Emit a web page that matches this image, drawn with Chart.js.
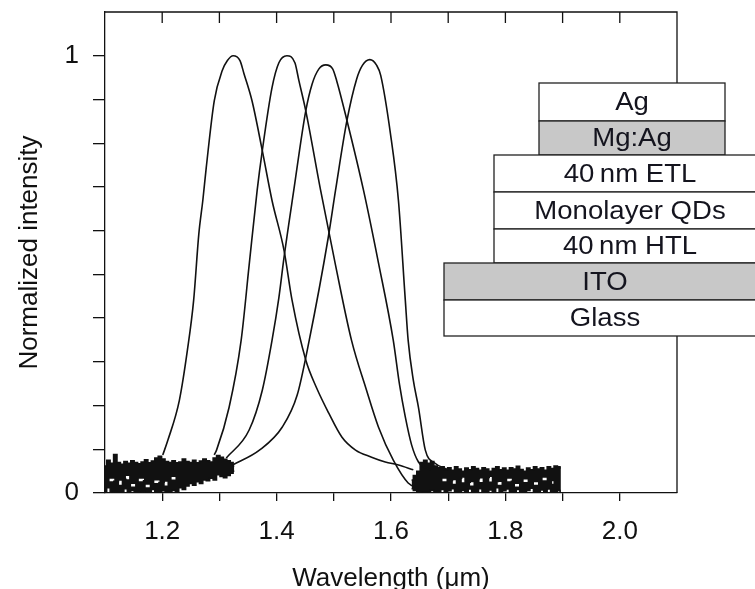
<!DOCTYPE html>
<html>
<head>
<meta charset="utf-8">
<script src="https://cdn.jsdelivr.net/npm/chart.js@4/dist/chart.umd.min.js"></script>
<style>
  html, body { margin: 0; padding: 0; background: #fff; }
</style>
</head>
<body>
<canvas id="chart" width="755" height="589"></canvas>
<script>
// electroluminescence spectra: [wavelength (um), normalized intensity]
const spectrum1 = [
  [1.201, 0.087], [1.210, 0.121], [1.230, 0.212], [1.244, 0.326], [1.255, 0.441],
  [1.264, 0.592], [1.271, 0.669], [1.277, 0.744], [1.291, 0.897], [1.305, 0.966],
  [1.314, 0.989], [1.324, 1.000], [1.336, 0.989], [1.343, 0.959], [1.357, 0.897],
  [1.375, 0.783], [1.392, 0.669], [1.413, 0.555], [1.427, 0.441], [1.451, 0.304],
  [1.470, 0.240], [1.491, 0.183], [1.514, 0.128], [1.538, 0.098], [1.566, 0.082],
  [1.590, 0.071], [1.613, 0.064], [1.639, 0.053]
];
const spectrum2 = [
  [1.291, 0.087], [1.295, 0.098], [1.317, 0.196], [1.338, 0.349], [1.352, 0.521],
  [1.366, 0.692], [1.375, 0.783], [1.392, 0.927], [1.404, 0.984], [1.418, 1.000],
  [1.432, 0.984], [1.439, 0.943], [1.451, 0.874], [1.477, 0.692], [1.503, 0.521],
  [1.531, 0.349], [1.556, 0.240], [1.578, 0.151], [1.604, 0.075], [1.630, 0.023],
  [1.648, 0.011]
];
const spectrum3 = [
  [1.312, 0.080], [1.352, 0.144], [1.375, 0.235], [1.392, 0.349], [1.404, 0.447],
  [1.413, 0.539], [1.430, 0.692], [1.451, 0.874], [1.462, 0.935], [1.474, 0.970],
  [1.486, 0.979], [1.498, 0.970], [1.505, 0.943], [1.523, 0.852], [1.552, 0.692],
  [1.578, 0.527], [1.604, 0.349], [1.615, 0.247], [1.625, 0.174], [1.636, 0.110],
  [1.648, 0.071], [1.669, 0.053]
];
const spectrum4 = [
  [1.323, 0.064], [1.370, 0.098], [1.410, 0.151], [1.436, 0.224], [1.457, 0.349],
  [1.490, 0.582], [1.503, 0.692], [1.523, 0.852], [1.540, 0.947], [1.550, 0.978],
  [1.563, 0.991], [1.575, 0.978], [1.582, 0.955], [1.599, 0.822], [1.613, 0.669],
  [1.625, 0.441], [1.630, 0.349], [1.639, 0.258], [1.648, 0.196], [1.660, 0.098],
  [1.677, 0.068], [1.700, 0.053]
];

// detector noise floor: [wavelength, top of band, bottom of band]
const noiseShort = [
  [1.100, 0.062, 0.000], [1.106, 0.075, 0.012], [1.112, 0.068, 0.000], [1.118, 0.088, 0.004],
  [1.124, 0.070, 0.000], [1.130, 0.066, 0.000], [1.136, 0.072, 0.010], [1.142, 0.068, 0.000],
  [1.148, 0.074, 0.006], [1.154, 0.070, 0.000], [1.160, 0.067, 0.000], [1.166, 0.071, 0.004],
  [1.172, 0.076, 0.000], [1.178, 0.069, 0.000], [1.184, 0.073, 0.008], [1.190, 0.080, 0.000],
  [1.196, 0.084, 0.000], [1.202, 0.078, 0.005], [1.208, 0.072, 0.000], [1.214, 0.070, 0.000],
  [1.220, 0.074, 0.006], [1.226, 0.069, 0.000], [1.232, 0.071, 0.012], [1.238, 0.078, 0.008],
  [1.244, 0.072, 0.016], [1.250, 0.070, 0.022], [1.256, 0.075, 0.018], [1.262, 0.069, 0.026],
  [1.268, 0.073, 0.022], [1.274, 0.078, 0.030], [1.280, 0.074, 0.028], [1.286, 0.071, 0.034],
  [1.292, 0.080, 0.030], [1.298, 0.086, 0.042], [1.304, 0.082, 0.038], [1.310, 0.077, 0.035],
  [1.316, 0.074, 0.040], [1.322, 0.070, 0.045], [1.326, 0.062, 0.050]
];
const noiseLong = [
  [1.636, 0.030, 0.010], [1.642, 0.040, 0.006], [1.648, 0.050, 0.004], [1.654, 0.070, 0.000],
  [1.660, 0.075, 0.002], [1.666, 0.068, 0.000], [1.672, 0.072, 0.006], [1.678, 0.062, 0.000],
  [1.684, 0.058, 0.004], [1.690, 0.060, 0.008], [1.696, 0.054, 0.000], [1.702, 0.058, 0.005],
  [1.708, 0.052, 0.010], [1.714, 0.060, 0.003], [1.720, 0.055, 0.000], [1.726, 0.050, 0.006],
  [1.732, 0.057, 0.002], [1.738, 0.053, 0.009], [1.744, 0.060, 0.000], [1.750, 0.056, 0.004],
  [1.756, 0.052, 0.010], [1.762, 0.058, 0.002], [1.768, 0.055, 0.000], [1.774, 0.050, 0.007],
  [1.780, 0.056, 0.003], [1.786, 0.060, 0.012], [1.792, 0.053, 0.000], [1.798, 0.057, 0.005],
  [1.804, 0.052, 0.009], [1.810, 0.058, 0.002], [1.816, 0.055, 0.000], [1.822, 0.061, 0.008],
  [1.828, 0.054, 0.004], [1.834, 0.050, 0.000], [1.840, 0.057, 0.006], [1.846, 0.053, 0.011],
  [1.852, 0.060, 0.003], [1.858, 0.055, 0.000], [1.864, 0.058, 0.007], [1.870, 0.052, 0.002],
  [1.876, 0.060, 0.009], [1.882, 0.056, 0.004], [1.888, 0.062, 0.000], [1.894, 0.060, 0.006],
  [1.897, 0.058, 0.000]
];
// small gaps seen inside the noise floor: [wavelength, intensity]
const gapsShort = [
  [1.108, 0.030], [1.120, 0.022], [1.134, 0.036], [1.146, 0.018], [1.160, 0.030],
  [1.172, 0.016], [1.186, 0.026], [1.200, 0.020], [1.214, 0.034], [1.228, 0.024]
];
const gapsLong = [
  [1.690, 0.030], [1.704, 0.024], [1.718, 0.032], [1.734, 0.020], [1.750, 0.028],
  [1.766, 0.034], [1.782, 0.022], [1.800, 0.030], [1.818, 0.018], [1.836, 0.028],
  [1.852, 0.022], [1.868, 0.032], [1.884, 0.024]
];

const xTicks = [1.2, 1.3, 1.4, 1.5, 1.6, 1.7, 1.8, 1.9, 2.0];
const xLabels = ['1.2', '', '1.4', '', '1.6', '', '1.8', '', '2.0'];
const yTicks = [0, 0.1, 0.2, 0.3, 0.4, 0.5, 0.6, 0.7, 0.8, 0.9, 1.0];
const yLabels = ['0', '', '', '', '', '', '', '', '', '', '1'];

// device stack drawn as inset, top to bottom
const layerNames = ['Ag', 'Mg:Ag', '40\u2009nm ETL', 'Monolayer QDs', '40\u2009nm HTL', 'ITO', 'Glass'];
const layerShaded = [false, true, false, false, false, true, false];

const INK = '#111';
const FONT = 'Liberation Sans, Arial, Helvetica, sans-serif';

const toXY = rows => rows.map(r => ({ x: r[0], y: r[1] }));
const bandBottom = rows => rows.map(r => ({ x: r[0], y: r[2] }));

const noiseStyle = { borderColor: INK, borderWidth: 1.5, stepped: 'middle', pointRadius: 0, order: 2 };
const gapStyle = { borderColor: '#fff', borderWidth: 2.5, stepped: 'middle', borderDash: [4, 9], pointRadius: 0, fill: false, order: 1 };
const curveStyle = { borderColor: INK, borderWidth: 1.6, cubicInterpolationMode: 'monotone', pointRadius: 0, fill: false, order: 0 };

// plot frame: top and right sides plus inward ticks on top
const framePlugin = {
  id: 'frame',
  beforeDatasetsDraw(chart) {
    const { ctx, chartArea: a, scales: { x } } = chart;
    ctx.save();
    ctx.strokeStyle = INK;
    ctx.lineWidth = 1.3;
    ctx.beginPath();
    ctx.moveTo(a.left, a.top);
    ctx.lineTo(a.right, a.top);
    ctx.lineTo(a.right, a.bottom);
    xTicks.forEach(v => {
      const px = x.getPixelForValue(v);
      ctx.moveTo(px, a.top);
      ctx.lineTo(px, a.top + 11);
    });
    ctx.stroke();
    ctx.restore();
  }
};

// layer stack inset
const stackPlugin = {
  id: 'stack',
  afterDraw(chart) {
    const { ctx } = chart;
    const rows = [83, 121, 155, 192, 229, 263, 300, 336];
    const lefts = [539, 539, 494, 494, 494, 444, 444];
    const rights = [725, 725, 766, 766, 766, 766, 766];
    ctx.save();
    ctx.lineWidth = 1.3;
    ctx.strokeStyle = '#222';
    layerNames.forEach((name, i) => {
      const x0 = lefts[i], x1 = rights[i], y0 = rows[i], y1 = rows[i + 1];
      ctx.fillStyle = layerShaded[i] ? '#c8c8c8' : '#fff';
      ctx.fillRect(x0, y0, x1 - x0, y1 - y0);
      ctx.strokeRect(x0, y0, x1 - x0, y1 - y0);
      ctx.save();
      ctx.translate((x0 + x1) / 2, (y0 + y1) / 2 + 1);
      ctx.scale(1.06, 1);
      ctx.font = '26px ' + FONT;
      ctx.textAlign = 'center';
      ctx.textBaseline = 'middle';
      ctx.fillStyle = '#14141e';
      ctx.fillText(name, 0, 0);
      ctx.restore();
    });
    ctx.restore();
  }
};

Chart.defaults.font.family = FONT;
Chart.defaults.font.size = 26;
Chart.defaults.color = INK;

const noPad = s => { s.paddingTop = 0; s.paddingBottom = 0; s.paddingLeft = 0; s.paddingRight = 0; };

new Chart(document.getElementById('chart'), {
  type: 'line',
  data: {
    datasets: [
      { data: bandBottom(noiseShort), ...noiseStyle, fill: false },
      { data: toXY(noiseShort), ...noiseStyle, fill: '-1', backgroundColor: INK },
      { data: bandBottom(noiseLong), ...noiseStyle, fill: false },
      { data: toXY(noiseLong), ...noiseStyle, fill: '-1', backgroundColor: INK },
      { data: toXY(spectrum1), ...curveStyle },
      { data: toXY(spectrum2), ...curveStyle },
      { data: toXY(spectrum3), ...curveStyle },
      { data: toXY(spectrum4), ...curveStyle },
      { data: toXY(gapsShort), ...gapStyle },
      { data: toXY(gapsLong), ...gapStyle }
    ]
  },
  options: {
    responsive: false,
    animation: false,
    devicePixelRatio: 1,
    layout: { padding: { top: 12, right: 78, left: 0, bottom: 0 } },
    plugins: { legend: { display: false }, tooltip: { enabled: false } },
    scales: {
      x: {
        type: 'linear',
        min: 1.1,
        max: 2.1,
        afterBuildTicks: s => { s.ticks = xTicks.map(v => ({ value: v })); },
        afterFit: s => { s.height = 96; noPad(s); },
        ticks: {
          padding: 15,
          maxRotation: 0,
          autoSkip: false,
          callback: (v, i) => xLabels[i]
        },
        grid: { drawOnChartArea: false, tickLength: 8, color: INK, lineWidth: 1.3 },
        border: { color: INK, width: 1.3 },
        title: { display: true, text: 'Wavelength (\u03bcm)', padding: { top: 0, bottom: -5 } }
      },
      y: {
        type: 'linear',
        min: 0,
        max: 1.1,
        afterBuildTicks: s => { s.ticks = yTicks.map(v => ({ value: v })); },
        afterFit: s => { s.width = 105; noPad(s); },
        ticks: {
          padding: 14,
          autoSkip: false,
          callback: (v, i) => yLabels[i]
        },
        grid: { drawOnChartArea: false, tickLength: 12, color: INK, lineWidth: 1.3 },
        border: { color: INK, width: 1.3 },
        title: { display: true, text: 'Normalized intensity', padding: { top: 14, bottom: 0 } }
      }
    }
  },
  plugins: [framePlugin, stackPlugin]
});
</script>
</body>
</html>
